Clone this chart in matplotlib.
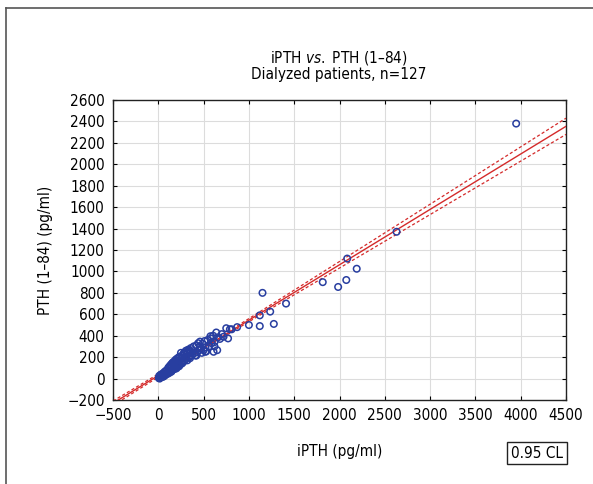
import numpy as np
import matplotlib
matplotlib.use("Agg")
import matplotlib.pyplot as plt
from matplotlib.lines import Line2D

# iPTH (x) vs PTH 1-84 (y), pg/ml
ipth = [5, 10, 15, 20, 25, 30, 35, 40, 45, 50, 55, 60, 65, 70, 75, 80, 85, 90, 95, 100,
        105, 110, 115, 120, 125, 130, 135, 140, 145, 150, 155, 160, 165, 170, 175, 180,
        185, 190, 195, 200, 205, 210, 215, 220, 225, 230, 235, 240, 250, 255, 260, 265,
        270, 280, 285, 290, 300, 305, 310, 320, 325, 330, 340, 345, 350, 360, 370, 380,
        390, 400, 410, 420, 430, 440, 450, 460, 470, 480, 490, 500, 510, 520, 530, 545,
        560, 575, 590, 605, 610, 620, 640, 650, 660, 680, 700, 720, 750, 770, 790, 810,
        870, 1000, 1120, 1120, 1150, 1235, 1275, 1410, 1815, 1985, 2075, 2085, 2190,
        2630, 3950, 150, 200, 300, 350, 420, 460, 520, 580, 620, 180, 260, 380]
pth = [5, 25, 0, 10, 35, 15, 40, 20, 15, 45, 30, 20, 60, 35, 30, 70, 40, 45, 80, 55,
       45, 100, 60, 110, 55, 120, 70, 130, 65, 140, 80, 150, 85, 100, 160, 90,
       150, 175, 105, 165, 185, 110, 120, 195, 130, 115, 205, 135, 240, 200, 140, 215,
       150, 235, 165, 245, 180, 260, 195, 170, 250, 270, 200, 255, 190, 285, 215, 230,
       300, 240, 215, 310, 245, 330, 265, 345, 280, 240, 325, 265, 350, 290, 255, 360,
       300, 395, 330, 400, 250, 340, 430, 265, 385, 370, 415, 390, 470, 375, 460, 460,
       480, 500, 490, 590, 800, 625, 510, 700, 900, 855, 920, 1120, 1025,
       1370, 2380, 110, 95, 205, 260, 215, 300, 250, 375, 300, 135, 165, 265]

x_ticks = list(range(-500, 4501, 500))
y_ticks = list(range(-200, 2601, 200))

plt.rcParams["font.family"] = ["DejaVu Sans"]
plt.rcParams["font.stretch"] = "condensed"
plt.rcParams["font.size"] = 11
plt.rcParams["mathtext.fontset"] = "custom"
plt.rcParams["mathtext.it"] = "DejaVu Sans:italic"
plt.rcParams["mathtext.rm"] = "DejaVu Sans"

x = np.array(ipth, dtype=float)
y = np.array(pth, dtype=float)
n = len(x)

# linear fit with 95% confidence band
b1, b0 = np.polyfit(x, y, 1)
resid = y - (b0 + b1 * x)
s = np.sqrt(np.sum(resid ** 2) / (n - 2))
sxx = np.sum((x - x.mean()) ** 2)
t = 1.979
xs = np.linspace(-500, 4500, 200)
ys = b0 + b1 * xs
half = t * s * np.sqrt(1.0 / n + (xs - x.mean()) ** 2 / sxx)

fig = plt.figure(figsize=(5.93, 4.84), dpi=100)
ax = fig.add_axes([113 / 593, 1 - 400 / 484, 453 / 593, 300 / 484])

ax.grid(True, color="#dcdcdc", linewidth=0.8)
ax.set_axisbelow(True)
ax.plot(xs, ys, color="#d42a2a", linewidth=1.0, zorder=3)
ax.plot(xs, ys + half, color="#d42a2a", linewidth=0.9, linestyle=(0, (2.5, 1.8)), zorder=3)
ax.plot(xs, ys - half, color="#d42a2a", linewidth=0.9, linestyle=(0, (2.5, 1.8)), zorder=3)
ax.scatter(x, y, s=22, facecolors="none", edgecolors="#283ea0", linewidths=1.1, zorder=4)

ax.set_xlim(-500, 4500)
ax.set_ylim(-200, 2600)
ax.set_xticks(x_ticks)
ax.set_yticks(y_ticks)
ax.set_xticklabels([str(v).replace("-", "\u2212") for v in x_ticks])
ax.set_yticklabels([str(v).replace("-", "\u2212") for v in y_ticks])
ax.tick_params(direction="in", top=True, right=True, length=3, width=0.8, pad=6, labelsize=11)
for sp in ax.spines.values():
    sp.set_linewidth(1.0)
    sp.set_color("#222222")

ax.set_xlabel("iPTH (pg/ml)", fontsize=11, labelpad=15)
ax.set_ylabel("PTH (1\u201384) (pg/ml)", fontsize=11, labelpad=10)

fig.text(339 / 593, 1 - 58 / 484, "iPTH $\\it{vs.}$ PTH (1\u201384)", ha="center", va="center", fontsize=11)
fig.text(339 / 593, 1 - 75 / 484, "Dialyzed patients, n=127", ha="center", va="center", fontsize=11)

fig.text(537 / 593, 1 - 453 / 484, "0.95 CL", ha="center", va="center", fontsize=11,
         bbox=dict(boxstyle="square,pad=0.25", facecolor="white", edgecolor="#222222", linewidth=1.0))

# outer frame (left and top edges visible)
fig.add_artist(Line2D([6 / 593, 6 / 593], [0, 1 - 8 / 484], transform=fig.transFigure, color="#555555", linewidth=1.2))
fig.add_artist(Line2D([6 / 593, 1], [1 - 8 / 484, 1 - 8 / 484], transform=fig.transFigure, color="#555555", linewidth=1.2))

fig.savefig("out.png", dpi=100)
